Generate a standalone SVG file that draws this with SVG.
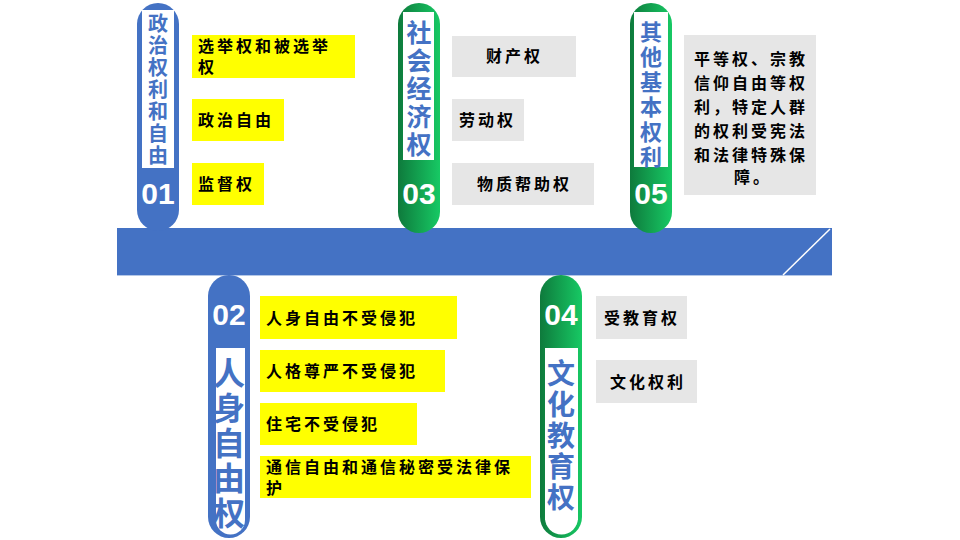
<svg xmlns="http://www.w3.org/2000/svg" width="960" height="540" viewBox="0 0 960 540">
<defs>
<linearGradient id="g" x1="0" x2="1" y1="0" y2="0"><stop offset="0" stop-color="#0E7A3C"/><stop offset="1" stop-color="#17C964"/></linearGradient>
<style>
.y{fill:#FFFF00}.gr{fill:#E6E6E6}
.t{font-family:"Noto Sans CJK SC","Liberation Serif",serif;font-weight:bold;font-size:16px;fill:#000;letter-spacing:3px}
.v{font-family:"Noto Sans CJK SC","Liberation Sans",sans-serif;font-weight:bold;fill:#4472C4;text-anchor:middle}
.n{font-family:"Liberation Sans",Arial,sans-serif;font-weight:bold;font-size:30px;fill:#fff;text-anchor:middle}
</style>
</defs>
<rect width="960" height="540" fill="#fff"/>
<g id="band">
<rect x="117" y="228" width="715" height="47" fill="#4472C4"/>
<line x1="117" y1="275.5" x2="832" y2="275.5" stroke="#B4C7E7" stroke-width="1"/>
<line x1="783" y1="275" x2="830" y2="229" stroke="#fff" stroke-width="1.5"/>
</g>
<g id="n01">
<rect x="137" y="3" width="42" height="228" rx="21" fill="#4472C4"/>
<rect x="142" y="10" width="32" height="158" fill="#fff"/>
<text class="v" font-size="20" x="158"><tspan x="158" y="31">政</tspan><tspan x="158" y="53">治</tspan><tspan x="158" y="75">权</tspan><tspan x="158" y="97">利</tspan><tspan x="158" y="119">和</tspan><tspan x="158" y="141">自</tspan><tspan x="158" y="163">由</tspan></text>
<text class="n" x="158" y="204">01</text>
</g>
<g id="n03">
<rect x="398" y="3" width="42" height="230" rx="21" fill="url(#g)"/>
<rect x="403" y="12" width="31" height="148" fill="#fff"/>
<text class="v" font-size="25" x="419"><tspan x="419" y="42">社</tspan><tspan x="419" y="70">会</tspan><tspan x="419" y="98">经</tspan><tspan x="419" y="126">济</tspan><tspan x="419" y="154">权</tspan></text>
<text class="n" x="419" y="204">03</text>
</g>
<g id="n05">
<rect x="630" y="3" width="42" height="230" rx="21" fill="url(#g)"/>
<rect x="634" y="12" width="34" height="155" fill="#fff"/>
<text class="v" font-size="22" x="651"><tspan x="651" y="40">其</tspan><tspan x="651" y="65">他</tspan><tspan x="651" y="90">基</tspan><tspan x="651" y="115">本</tspan><tspan x="651" y="140">权</tspan><tspan x="651" y="165">利</tspan></text>
<text class="n" x="651" y="204">05</text>
</g>
<g id="n02">
<rect x="208" y="275" width="42" height="263" rx="21" fill="#4472C4"/>
<rect x="216" y="348" width="29" height="172" fill="#fff"/>
<path d="M216 500 V520 A14 14 0 0 0 245 520 V500 Z" fill="#fff"/>
<text class="n" x="229" y="325">02</text>
<text class="v" font-size="32" x="229"><tspan x="229" y="385">人</tspan><tspan x="229" y="420">身</tspan><tspan x="229" y="455">自</tspan><tspan x="229" y="490">由</tspan><tspan x="229" y="525">权</tspan></text>
</g>
<g id="n04">
<rect x="540" y="275" width="42" height="263" rx="21" fill="url(#g)"/>
<rect x="545" y="348" width="33" height="172" fill="#fff"/>
<path d="M545 500 V518 A16 16 0 0 0 578 518 V500 Z" fill="#fff"/>
<text class="n" x="561" y="325">04</text>
<text class="v" font-size="28" x="561"><tspan x="561" y="384">文</tspan><tspan x="561" y="415">化</tspan><tspan x="561" y="446">教</tspan><tspan x="561" y="477">育</tspan><tspan x="561" y="508">权</tspan></text>
</g>
<g id="b01">
<rect class="y" x="192" y="35" width="163" height="43"/>
<text class="t"><tspan x="198" y="52">选举权和被选举</tspan><tspan x="198" y="73">权</tspan></text>
<rect class="y" x="192" y="99" width="92" height="42"/><text class="t" x="198" y="126">政治自由</text>
<rect class="y" x="192" y="163" width="72" height="42"/><text class="t" x="198" y="190">监督权</text>
</g>
<g id="b03">
<rect class="gr" x="452" y="36" width="124" height="41"/><text class="t" x="486" y="62">财产权</text>
<rect class="gr" x="452" y="99" width="72" height="42"/><text class="t" x="459" y="126">劳动权</text>
<rect class="gr" x="452" y="163" width="142" height="42"/><text class="t" x="477" y="190">物质帮助权</text>
</g>
<g id="b05">
<rect class="gr" x="684" y="35" width="132" height="160"/>
<text class="t" letter-spacing="2"><tspan x="694" y="65">平等权、宗教</tspan><tspan x="694" y="89">信仰自由等权</tspan><tspan x="694" y="113">利，特定人群</tspan><tspan x="694" y="137">的权利受宪法</tspan><tspan x="694" y="161">和法律特殊保</tspan><tspan x="734" y="183">障。</tspan></text>
</g>
<g id="b02">
<rect class="y" x="260" y="296" width="197" height="43"/><text class="t" x="266" y="324">人身自由不受侵犯</text>
<rect class="y" x="260" y="350" width="185" height="42"/><text class="t" x="266" y="377">人格尊严不受侵犯</text>
<rect class="y" x="260" y="403" width="157" height="42"/><text class="t" x="266" y="430">住宅不受侵犯</text>
<rect class="y" x="260" y="456" width="271" height="42"/>
<text class="t"><tspan x="266" y="473">通信自由和通信秘密受法律保</tspan><tspan x="266" y="494">护</tspan></text>
</g>
<g id="b04">
<rect class="gr" x="596" y="296" width="91" height="43"/><text class="t" x="604" y="324">受教育权</text>
<rect class="gr" x="596" y="360" width="101" height="43"/><text class="t" x="610" y="388">文化权利</text>
</g>
<g id="connectors"></g>
</svg>
